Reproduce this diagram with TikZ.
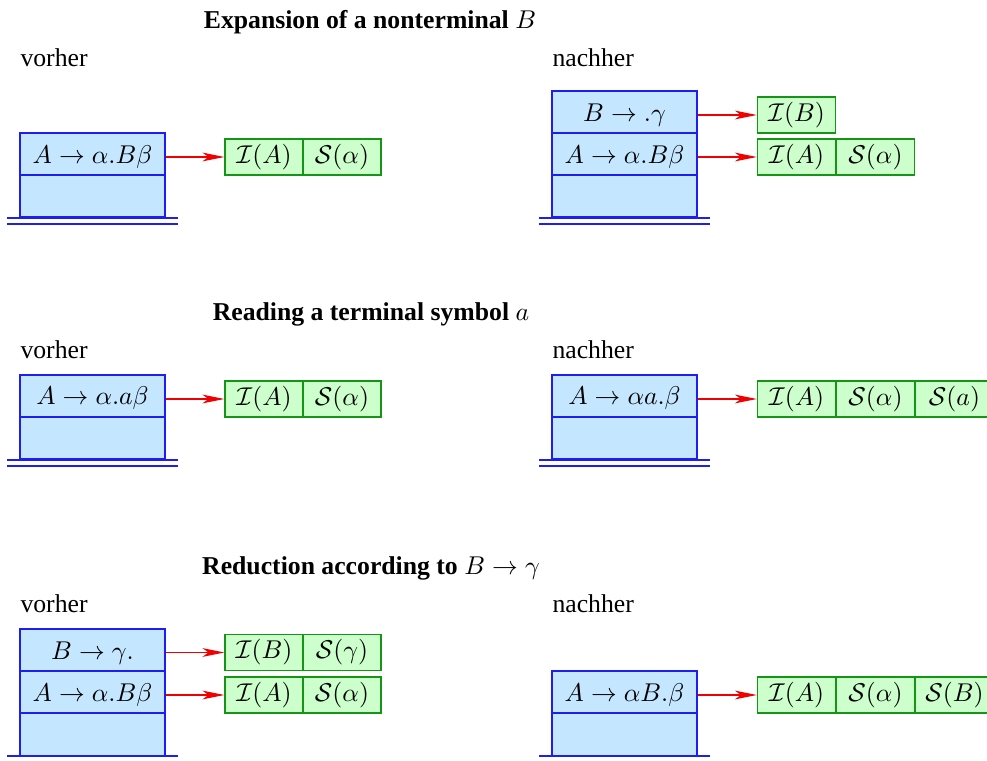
\documentclass[tikz,border=0pt]{standalone}
\usepackage{fontspec}
\setmainfont{Liberation Serif}
\usetikzlibrary{arrows.meta,calc}
\definecolor{stackfill}{RGB}{196,230,255}
\definecolor{stackline}{RGB}{30,30,240}
\definecolor{greenfill}{RGB}{204,255,204}
\definecolor{greenline}{RGB}{20,150,20}
\definecolor{arrred}{RGB}{240,0,0}
\def\u{0.389pt}
\tikzset{
  cell/.style={draw=stackline, fill=stackfill, line width=0.5pt, minimum width=145*\u, minimum height=42*\u, inner sep=0pt, text height=7pt, text depth=0pt, font=\fontsize{10}{12}\selectfont},
  gcell/.style={draw=greenline, fill=greenfill, line width=0.5pt, minimum width=78*\u, minimum height=36*\u, inner sep=0pt, font=\fontsize{10}{12}\selectfont},
  ptr/.style={draw=arrred, line width=0.5pt, -{Stealth[length=8.5pt, width=3.4pt, inset=2.3pt]}},
  stackbase/.style={draw=stackline, line width=0.75pt},
  lbl/.style={anchor=west, inner sep=0pt, font=\fontsize{10}{12}\selectfont},
  ttl/.style={inner sep=0pt, font=\fontsize{10}{12}\selectfont}
}
\begin{document}
\begin{tikzpicture}[x=\u, y=-\u]
\useasboundingbox (0,0) rectangle (987,761);
% ---------- Panel 1 ----------
\node[ttl] (t1) at (370,22) {\textbf{Expansion of a nonterminal} $B$};
\node[lbl] (v1) at (20,58) {vorher};
\node[lbl] (n1) at (552,58) {nachher};
% left stack
\node[cell] (a1) at (92.5,154) {$A\rightarrow\alpha.B\beta$};
\node[cell] (a2) at (92.5,196) {};
\coordinate (a2l) at ($(a2.south west)+(-12,0)$);
\coordinate (a2r) at ($(a2.south east)+(12,0)$);
\path[stackbase] (a2l) -- (a2r) ([yshift=-6*\u]a2l) -- ([yshift=-6*\u]a2r);
\node[gcell] (ag1) at (264,157) {$\mathcal{I}(A)$};
\node[gcell] (ag2) at (342,157) {$\mathcal{S}(\alpha)$};
\draw[ptr] (a1.east |- ag1.west) -- (ag1.west);
% right stack
\node[cell] (b0) at (624.5,112) {$B\rightarrow .\gamma$};
\node[cell] (b1) at (624.5,154) {$A\rightarrow\alpha.B\beta$};
\node[cell] (b2) at (624.5,196) {};
\coordinate (b2l) at ($(b2.south west)+(-12,0)$);
\coordinate (b2r) at ($(b2.south east)+(12,0)$);
\path[stackbase] (b2l) -- (b2r) ([yshift=-6*\u]b2l) -- ([yshift=-6*\u]b2r);
\node[gcell] (bg0) at (796.5,115) {$\mathcal{I}(B)$};
\node[gcell] (bg1) at (796.5,157) {$\mathcal{I}(A)$};
\node[gcell] (bg2) at (875.5,157) {$\mathcal{S}(\alpha)$};
\draw[ptr] (b0.east |- bg0.west) -- (bg0.west);
\draw[ptr] (b1.east |- bg1.west) -- (bg1.west);
% ---------- Panel 2 ----------
\node[ttl] (t2) at (371,314) {\textbf{Reading a terminal symbol} $a$};
\node[lbl] (v2) at (20,350) {vorher};
\node[lbl] (n2) at (552,350) {nachher};
\node[cell] (c1) at (92.5,396) {$A\rightarrow\alpha.a\beta$};
\node[cell] (c2) at (92.5,438) {};
\coordinate (c2l) at ($(c2.south west)+(-12,0)$);
\coordinate (c2r) at ($(c2.south east)+(12,0)$);
\path[stackbase] (c2l) -- (c2r) ([yshift=-6*\u]c2l) -- ([yshift=-6*\u]c2r);
\node[gcell] (cg1) at (264,399) {$\mathcal{I}(A)$};
\node[gcell] (cg2) at (342,399) {$\mathcal{S}(\alpha)$};
\draw[ptr] (c1.east |- cg1.west) -- (cg1.west);
\node[cell] (d1) at (624.5,396) {$A\rightarrow\alpha a.\beta$};
\node[cell] (d2) at (624.5,438) {};
\coordinate (d2l) at ($(d2.south west)+(-12,0)$);
\coordinate (d2r) at ($(d2.south east)+(12,0)$);
\path[stackbase] (d2l) -- (d2r) ([yshift=-6*\u]d2l) -- ([yshift=-6*\u]d2r);
\node[gcell] (dg1) at (796.5,399) {$\mathcal{I}(A)$};
\node[gcell] (dg2) at (875.5,399) {$\mathcal{S}(\alpha)$};
\node[gcell] (dg3) at (954.5,399) {$\mathcal{S}(a)$};
\draw[ptr] (d1.east |- dg1.west) -- (dg1.west);
% ---------- Panel 3 ----------
\node[ttl] (t3) at (371,568) {\textbf{Reduction according to} $B\rightarrow\gamma$};
\node[lbl] (v3) at (20,604) {vorher};
\node[lbl] (n3) at (552,604) {nachher};
\node[cell] (e0) at (92.5,650) {$B\rightarrow\gamma.$};
\node[cell] (e1) at (92.5,692) {$A\rightarrow\alpha.B\beta$};
\node[cell] (e2) at (92.5,734.5) {};
\coordinate (e2l) at ($(e2.south west)+(-12,0)$);
\coordinate (e2r) at ($(e2.south east)+(12,0)$);
\path[stackbase] (e2l) -- (e2r) ([yshift=-6*\u]e2l) -- ([yshift=-6*\u]e2r);
\node[gcell] (eg0) at (264,652.5) {$\mathcal{I}(B)$};
\node[gcell] (eg0b) at (342,652.5) {$\mathcal{S}(\gamma)$};
\node[gcell] (eg1) at (264,695) {$\mathcal{I}(A)$};
\node[gcell] (eg1b) at (342,695) {$\mathcal{S}(\alpha)$};
\draw[ptr] (e0.east |- eg0.west) -- (eg0.west);
\draw[ptr] (e1.east |- eg1.west) -- (eg1.west);
\node[cell] (f1) at (624.5,692) {$A\rightarrow\alpha B.\beta$};
\node[cell] (f2) at (624.5,734.5) {};
\coordinate (f2l) at ($(f2.south west)+(-12,0)$);
\coordinate (f2r) at ($(f2.south east)+(12,0)$);
\path[stackbase] (f2l) -- (f2r) ([yshift=-6*\u]f2l) -- ([yshift=-6*\u]f2r);
\node[gcell] (fg1) at (796.5,695) {$\mathcal{I}(A)$};
\node[gcell] (fg2) at (875.5,695) {$\mathcal{S}(\alpha)$};
\node[gcell] (fg3) at (954.5,695) {$\mathcal{S}(B)$};
\draw[ptr] (f1.east |- fg1.west) -- (fg1.west);
\end{tikzpicture}
\end{document}
